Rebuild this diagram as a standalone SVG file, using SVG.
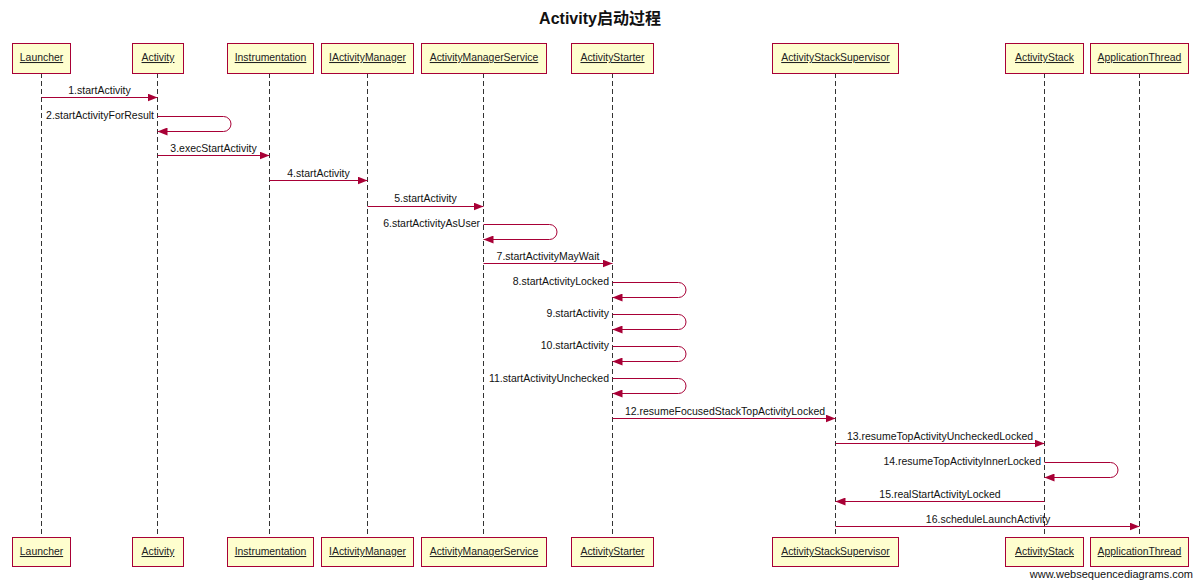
<svg xmlns="http://www.w3.org/2000/svg" width="1200" height="586" viewBox="0 0 1200 586">
  <style>
    .box { fill: #FEFECE; stroke: #A80036; stroke-width: 1; }
    .name { font-family: "Liberation Sans", Arial, sans-serif; font-size: 10.4px; fill: #222; text-anchor: middle; text-decoration: underline; }
    .life { stroke: #333; stroke-width: 1; stroke-dasharray: 5 3; fill: none; }
    .msg { stroke: #A80036; stroke-width: 1; fill: none; marker-end: url(#head); }
    .lbl { font-family: "Liberation Sans", Arial, sans-serif; font-size: 10.5px; fill: #111; text-anchor: middle; }
    .lbl.self { text-anchor: end; }
    .title { font-family: "Liberation Sans", "Noto Sans CJK SC", sans-serif; font-size: 16px; font-weight: bold; fill: #111; text-anchor: middle; }
    .mark { font-family: "Liberation Sans", Arial, sans-serif; font-size: 11px; fill: #111; text-anchor: end; }
  </style>
  <defs>
    <marker id="head" markerUnits="userSpaceOnUse" markerWidth="10" markerHeight="8" refX="10" refY="4" orient="auto">
      <path d="M0,0 L10,4 L0,8 z" fill="#A80036"/>
    </marker>
  </defs>
  <rect width="1200" height="586" fill="#fff"/>
  <text class="title" x="600" y="24">Activity启动过程</text>

  <!-- participants: top box, lifeline, bottom box -->
  <g id="launcher">
    <line class="life" x1="41.5" y1="73" x2="41.5" y2="537"/>
    <rect class="box" x="12.5" y="43.5" width="58" height="30"/>
    <text class="name" x="41.5" y="61">Launcher</text>
    <rect class="box" x="12.5" y="537.5" width="58" height="29"/>
    <text class="name" x="41.5" y="555">Launcher</text>
  </g>
  <g id="activity">
    <line class="life" x1="157.5" y1="73" x2="157.5" y2="537"/>
    <rect class="box" x="132.5" y="43.5" width="51" height="30"/>
    <text class="name" x="158" y="61">Activity</text>
    <rect class="box" x="132.5" y="537.5" width="51" height="29"/>
    <text class="name" x="158" y="555">Activity</text>
  </g>
  <g id="instrumentation">
    <line class="life" x1="269.5" y1="73" x2="269.5" y2="537"/>
    <rect class="box" x="227.5" y="43.5" width="86" height="30"/>
    <text class="name" x="270.5" y="61">Instrumentation</text>
    <rect class="box" x="227.5" y="537.5" width="86" height="29"/>
    <text class="name" x="270.5" y="555">Instrumentation</text>
  </g>
  <g id="iactivitymanager">
    <line class="life" x1="367.5" y1="73" x2="367.5" y2="537"/>
    <rect class="box" x="321.5" y="43.5" width="92" height="30"/>
    <text class="name" x="367.5" y="61">IActivityManager</text>
    <rect class="box" x="321.5" y="537.5" width="92" height="29"/>
    <text class="name" x="367.5" y="555">IActivityManager</text>
  </g>
  <g id="activitymanagerservice">
    <line class="life" x1="483.5" y1="73" x2="483.5" y2="537"/>
    <rect class="box" x="421.5" y="43.5" width="125" height="30"/>
    <text class="name" x="484" y="61">ActivityManagerService</text>
    <rect class="box" x="421.5" y="537.5" width="125" height="29"/>
    <text class="name" x="484" y="555">ActivityManagerService</text>
  </g>
  <g id="activitystarter">
    <line class="life" x1="612.5" y1="73" x2="612.5" y2="537"/>
    <rect class="box" x="571.5" y="43.5" width="82" height="30"/>
    <text class="name" x="612.5" y="61">ActivityStarter</text>
    <rect class="box" x="571.5" y="537.5" width="82" height="29"/>
    <text class="name" x="612.5" y="555">ActivityStarter</text>
  </g>
  <g id="activitystacksupervisor">
    <line class="life" x1="835.5" y1="73" x2="835.5" y2="537"/>
    <rect class="box" x="772.5" y="43.5" width="126" height="30"/>
    <text class="name" x="835.5" y="61">ActivityStackSupervisor</text>
    <rect class="box" x="772.5" y="537.5" width="126" height="29"/>
    <text class="name" x="835.5" y="555">ActivityStackSupervisor</text>
  </g>
  <g id="activitystack">
    <line class="life" x1="1044.5" y1="73" x2="1044.5" y2="537"/>
    <rect class="box" x="1005.5" y="43.5" width="78" height="30"/>
    <text class="name" x="1044.5" y="61">ActivityStack</text>
    <rect class="box" x="1005.5" y="537.5" width="78" height="29"/>
    <text class="name" x="1044.5" y="555">ActivityStack</text>
  </g>
  <g id="applicationthread">
    <line class="life" x1="1139.5" y1="73" x2="1139.5" y2="537"/>
    <rect class="box" x="1090.5" y="43.5" width="98" height="30"/>
    <text class="name" x="1139.5" y="61">ApplicationThread</text>
    <rect class="box" x="1090.5" y="537.5" width="98" height="29"/>
    <text class="name" x="1139.5" y="555">ApplicationThread</text>
  </g>

  <!-- messages -->
  <g id="connectors">
    <path class="msg" d="M41.5,97.5 H157.5"/>
    <text class="lbl" x="99.5" y="94">1.startActivity</text>

    <path class="msg" d="M157.5,116.5 H223.5 A7.5,7.5 0 0 1 231,124 A7.5,7.5 0 0 1 223.5,131.5 H157.5"/>
    <text class="lbl self" x="154" y="119">2.startActivityForResult</text>

    <path class="msg" d="M157.5,155.5 H269.5"/>
    <text class="lbl" x="213.5" y="152">3.execStartActivity</text>

    <path class="msg" d="M269.5,180.5 H367.5"/>
    <text class="lbl" x="318.5" y="177">4.startActivity</text>

    <path class="msg" d="M367.5,206.5 H483.5"/>
    <text class="lbl" x="425.5" y="202">5.startActivity</text>

    <path class="msg" d="M483.5,224.5 H549.5 A7.5,7.5 0 0 1 557,232 A7.5,7.5 0 0 1 549.5,239.5 H483.5"/>
    <text class="lbl self" x="480" y="227">6.startActivityAsUser</text>

    <path class="msg" d="M483.5,263.5 H612.5"/>
    <text class="lbl" x="548" y="260">7.startActivityMayWait</text>

    <path class="msg" d="M612.5,282.5 H678.5 A7.5,7.5 0 0 1 686,290 A7.5,7.5 0 0 1 678.5,297.5 H612.5"/>
    <text class="lbl self" x="609" y="285">8.startActivityLocked</text>

    <path class="msg" d="M612.5,314.5 H678.5 A7.5,7.5 0 0 1 686,322 A7.5,7.5 0 0 1 678.5,329.5 H612.5"/>
    <text class="lbl self" x="609" y="317">9.startActivity</text>

    <path class="msg" d="M612.5,346.5 H678.5 A7.5,7.5 0 0 1 686,354 A7.5,7.5 0 0 1 678.5,361.5 H612.5"/>
    <text class="lbl self" x="609" y="349">10.startActivity</text>

    <path class="msg" d="M612.5,378.5 H678.5 A7.5,7.5 0 0 1 686,386 A7.5,7.5 0 0 1 678.5,393.5 H612.5"/>
    <text class="lbl self" x="609" y="382">11.startActivityUnchecked</text>

    <path class="msg" d="M612.5,418.5 H835.5"/>
    <text class="lbl" x="725" y="415">12.resumeFocusedStackTopActivityLocked</text>

    <path class="msg" d="M835.5,443.5 H1044.5"/>
    <text class="lbl" x="940" y="440">13.resumeTopActivityUncheckedLocked</text>

    <path class="msg" d="M1044.5,462.5 H1110.5 A7.5,7.5 0 0 1 1118,470 A7.5,7.5 0 0 1 1110.5,477.5 H1044.5"/>
    <text class="lbl self" x="1041" y="465">14.resumeTopActivityInnerLocked</text>

    <path class="msg" d="M1044.5,501.5 H835.5"/>
    <text class="lbl" x="940" y="498">15.realStartActivityLocked</text>

    <path class="msg" d="M835.5,526.5 H1139.5"/>
    <text class="lbl" x="988" y="523">16.scheduleLaunchActivity</text>
  </g>

  <text class="mark" x="1193" y="578">www.websequencediagrams.com</text>
</svg>
